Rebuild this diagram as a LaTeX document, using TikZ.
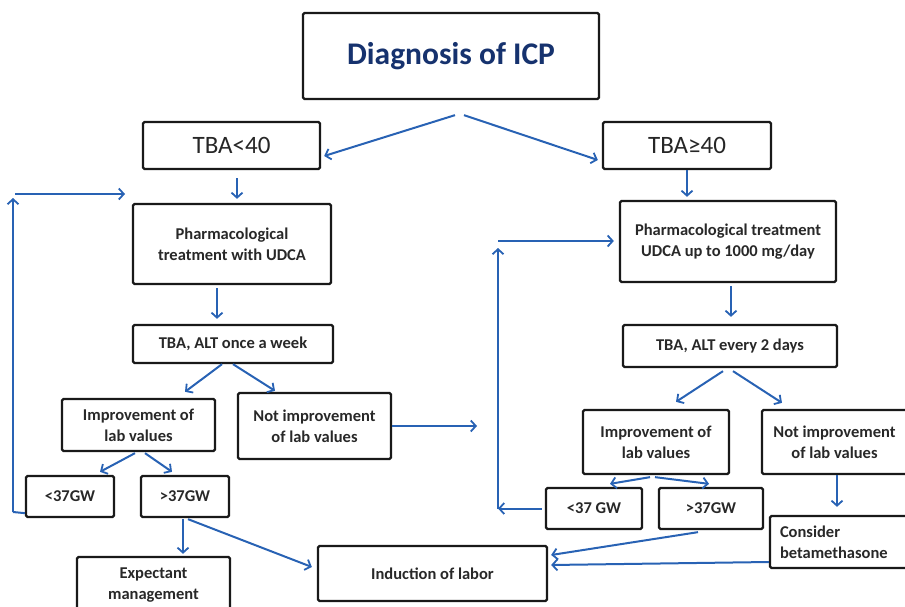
\documentclass[tikz,border=0pt]{standalone}
\usepackage{fontspec}
\setmainfont{Carlito}
\usetikzlibrary{arrows.meta,calc}
\definecolor{lnblue}{RGB}{40,98,180}
\definecolor{navy}{RGB}{22,50,110}
\definecolor{txt}{RGB}{40,40,40}
\begin{document}
\begin{tikzpicture}[x=1pt,y=-1pt,
  box/.style={draw=black!90, line width=2.3pt, rounded corners=1.5pt, fill=white, inner sep=0pt, align=center},
  small/.style={font=\fontsize{16.5}{21}\selectfont\bfseries, text=txt},
  mid/.style={font=\fontsize{25}{30}\selectfont, text=black!85},
  conn/.style={draw=lnblue, line width=2pt, -{Straight Barb[length=5pt,width=11pt,line width=1.8pt]}},
  plain/.style={draw=lnblue, line width=2pt}]
\useasboundingbox (0,0) rectangle (905,607);
% nodes
\node[box, minimum width=296pt, minimum height=86pt, font=\fontsize{31.5}{34}\selectfont\bfseries, text=navy] (diag) at (451,56) {Diagnosis of ICP};
\node[box, mid, minimum width=177pt, minimum height=47pt] (tbaL) at (231.5,145.5) {TBA<40};
\node[box, mid, minimum width=168pt, minimum height=47pt] (tbaR) at (687,145.5) {TBA≥40};
\node[box, small, minimum width=198pt, minimum height=80pt] (pharmL) at (232,244) {Pharmacological\\treatment with UDCA};
\node[box, small, minimum width=216pt, minimum height=81pt] (pharmR) at (728,241.5) {Pharmacological treatment\\UDCA up to 1000 mg/day};
\node[box, small, minimum width=200pt, minimum height=38pt] (onceL) at (233,344) {TBA, ALT once a week};
\node[box, small, minimum width=214pt, minimum height=42pt] (everyR) at (730,346) {TBA, ALT every 2 days};
\node[box, small, minimum width=153pt, minimum height=52pt] (imprL) at (138.5,425) {Improvement of\\lab values};
\node[box, small, minimum width=153pt, minimum height=66pt] (notL) at (314.5,426) {Not improvement\\of lab values};
\node[box, small, minimum width=146pt, minimum height=64pt] (imprR) at (656,442) {Improvement of\\lab values};
\node[box, small, minimum width=145pt, minimum height=64pt] (notR) at (834.5,442) {Not improvement\\of lab values};
\node[box, small, minimum width=88pt, minimum height=41pt] (lt37L) at (70,496.5) {<37GW};
\node[box, small, minimum width=88pt, minimum height=41pt] (gt37L) at (185,496.5) {>37GW};
\node[box, small, minimum width=96pt, minimum height=41pt] (lt37R) at (594,508.5) {<37 GW};
\node[box, small, minimum width=104pt, minimum height=41pt] (gt37R) at (711,508.5) {>37GW};
\node[box, small, minimum width=137pt, minimum height=52pt, text width=117pt, align=left] (consider) at (838.5,542) {Consider\\betamethasone};
\node[box, small, minimum width=153pt, minimum height=56pt] (expect) at (153.5,585) {Expectant\\management};
\node[box, small, minimum width=229pt, minimum height=55pt] (induct) at (432.5,573.5) {Induction of labor};
% free ends
\coordinate (nlend) at (477,426);
\coordinate (lcorner) at (13,512);
\coordinate (ltop) at (13,198);
\coordinate (lhstart) at (15,194);
\coordinate (lhend) at (125,194);
\coordinate (rcorner) at (498,508.5);
\coordinate (rtop) at (498,248);
\coordinate (rhstart) at (498,241);
% connectors
\draw[conn] ($(diag.south)+(4,15)$) -- ($(tbaL.east)+(3,10.5)$);
\draw[conn] ($(diag.south)+(13,15)$) -- ($(tbaR.west)+(-4,14.5)$);
\draw[conn] ($(tbaL.south)+(5.5,8)$) -- ($(tbaL.south |- pharmL.north)+(5.5,-4)$);
\draw[conn] (tbaR.south) -- ($(tbaR.south |- pharmR.north)+(0,-3)$);
\draw[conn] ($(pharmL.south)+(-15,3)$) -- ($(pharmL.south |- onceL.north)+(-15,-5)$);
\draw[conn] ($(pharmR.south)+(3,3)$) -- ($(pharmR.south |- everyR.north)+(3,-7)$);
\draw[conn] ($(onceL.south)+(-11,0)$) -- ($(imprL.north)+(46.5,-6)$);
\draw[conn] (onceL.south) -- ($(notL.north)+(-39.5,-1)$);
\draw[conn] ($(everyR.south)+(-7,3)$) -- ($(imprR.north)+(20,-7)$);
\draw[conn] ($(everyR.south)+(3,3)$) -- ($(notR.north)+(-52.5,-6)$);
\draw[conn] (notL.east) -- (nlend);
\draw[conn] ($(imprL.south)+(-3.5,1)$) -- ($(lt37L.north)+(30,-3)$);
\draw[conn] ($(imprL.south)+(6.5,1)$) -- ($(gt37L.north)+(-13,-3)$);
\draw[conn] ($(imprR.south)+(-6,2)$) -- ($(lt37R.north)+(16,-3)$);
\draw[conn] ($(imprR.south)+(-1,2)$) -- ($(gt37R.north)+(-2,-3)$);
% left loop
\draw[plain] ($(lt37L.south west)+(0,-5)$) -- (lcorner);
\draw[conn] (lcorner) -- (ltop);
\draw[conn] (lhstart) -- (lhend);
% right loop
\draw[conn] ($(lt37R.west)+(-3,0)$) -- (rcorner);
\draw[conn] (rcorner) -- (rtop);
\draw[conn] (rhstart) -- ($(pharmR.west)+(-5,-0.5)$);
% to bottom
\draw[conn] ($(gt37L.south)+(-2,1)$) -- ($(gt37L.south |- expect.north)+(-2,-2)$);
\draw[conn] ($(gt37L.south)+(3,1)$) -- ($(induct.west)+(-5,-6.5)$);
\draw[conn] ($(notR.south)+(2.5,0)$) -- ($(notR.south |- consider.north)+(2.5,-8)$);
\draw[conn] ($(gt37R.south)+(-13,2)$) -- ($(induct.east)+(3,-18.5)$);
\draw[conn] ($(consider.west)+(0,20)$) -- ($(induct.east)+(3,-8.5)$);
\end{tikzpicture}
\end{document}
